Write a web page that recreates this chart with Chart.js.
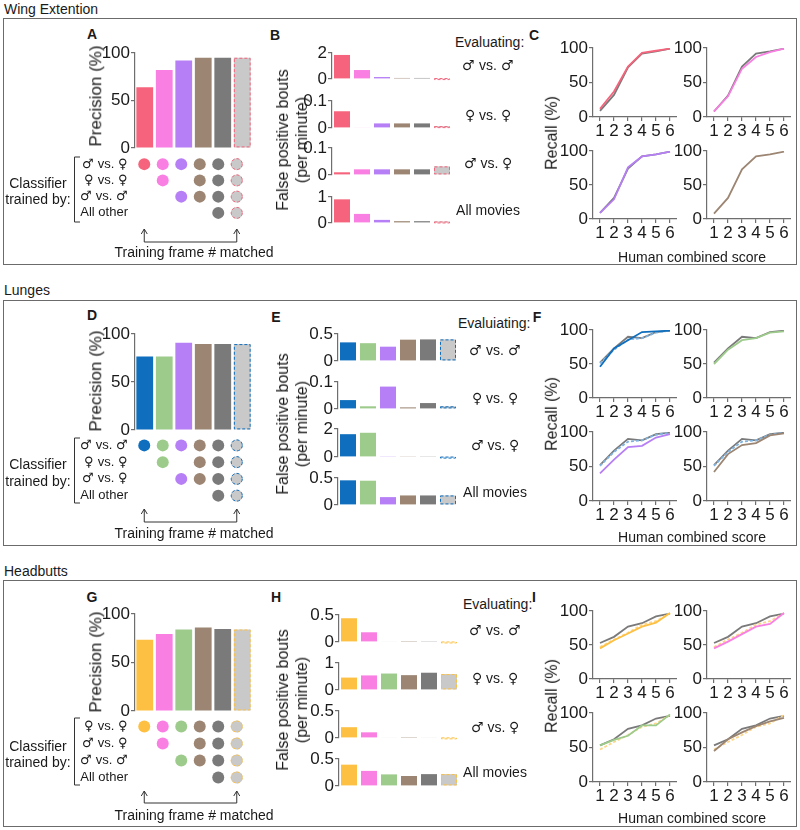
<!DOCTYPE html>
<html>
<head>
<meta charset="utf-8">
<script src="https://cdn.jsdelivr.net/npm/chart.js@4.4.1/dist/chart.umd.min.js"></script>
<style>
	@font-face { font-family: 'SexSym'; src: local('DejaVu Sans'); unicode-range: U+2640, U+2642; }
	html, body { margin: 0; padding: 0; background: #fff; }
	#fig { position: relative; width: 800px; height: 830px; overflow: hidden; font-family: "Liberation Sans", Arial, "DejaVu Sans", sans-serif; color: #1a1a1a; }
	.box { position: absolute; border: 1.5px solid #6b6b6b; box-sizing: border-box; }
	.lbl { position: absolute; white-space: pre; line-height: 1.15; text-align: center; }
	.sym { font-family: SexSym, "Liberation Sans", Arial, sans-serif; }
	canvas { position: absolute; }
	svg { position: absolute; left: 0; top: 0; }
</style>
</head>
<body>
<div id="fig"></div>
<script>
// six classifiers per behaviour (last one = frame-number matched)
var classifiers = ['c1', 'c2', 'c3', 'c4', 'c5', 'c6'];
var scores = ['1', '2', '3', '4', '5', '6'];

// Wing extension
var wePrecision = [64, 82, 92, 95, 95, 95];
var weFpMM = [1.85, 0.69, 0.15, 0.08, 0.08, 0.07];
var weFpFF = [0.062, 0.002, 0.017, 0.017, 0.017, 0.007];
var weFpMF = [0.01, 0.021, 0.021, 0.021, 0.021, 0.032];
var weFpAll = [0.91, 0.35, 0.12, 0.07, 0.07, 0.06];
var weRows = ['♂ vs. ♀', '♀ vs. ♀', '♂ vs. ♂', 'All other'];
var weTrained = [[1, 1, 1, 1, 1, 1], [0, 1, 0, 1, 1, 1], [0, 0, 1, 1, 1, 1], [0, 0, 0, 0, 1, 1]];
var weRecallGray1 = [9, 32, 72, 92, 95, 99];
var weRecallRed = [12, 37, 73, 93, 96, 99];
var weRecallGray2 = [8, 31, 73, 92, 95, 99];
var weRecallPink = [8, 30, 70, 87, 94, 99];
var weRecallGray3 = [9, 31, 74, 92, 95, 99];
var weRecallPurple = [9, 29, 76, 92, 95, 99];
var weRecallBrown = [8, 31, 73, 92, 95, 99];

// Lunges
var luPrecision = [76.5, 76.5, 91, 89.5, 89.5, 89.5];
var luFpMM = [0.345, 0.33, 0.265, 0.395, 0.40, 0.40];
var luFpFF = [0.033, 0.01, 0.083, 0.006, 0.022, 0.01];
var luFpMF = [1.63, 1.73, 0.03, 0.03, 0.03, 0.03];
var luFpAll = [0.457, 0.45, 0.146, 0.177, 0.177, 0.177];
var luRows = ['♂ vs. ♂', '♀ vs. ♀', '♂ vs. ♀', 'All other'];
var luTrained = [[1, 1, 1, 1, 1, 1], [0, 1, 0, 1, 1, 1], [0, 0, 1, 1, 1, 1], [0, 0, 0, 0, 1, 1]];
var luRecallGray = [52, 73, 90, 88, 97, 99];
var luRecallMatched = [51, 71, 86, 88, 96, 99];
var luRecallBlue = [46, 73, 85, 97, 98, 99];
var luRecallGreen = [50, 71, 85, 88, 96, 98];
var luRecallPurple = [40, 60, 78, 80, 92, 97];
var luRecallBrown = [42, 68, 81, 84, 95, 98];

// Headbutts
var hbPrecision = [73.5, 79.5, 84, 86, 84.5, 84];
var hbFpMM = [0.44, 0.18, 0.01, 0.005, 0.015, 0.01];
var hbFpFF = [0.46, 0.54, 0.61, 0.55, 0.64, 0.59];
var hbFpMF = [0.2, 0.105, 0.01, 0.005, 0.012, 0.012];
var hbFpAll = [0.395, 0.28, 0.215, 0.185, 0.22, 0.22];
var hbRows = ['♀ vs. ♀', '♂ vs. ♀', '♂ vs. ♂', 'All other'];
var hbTrained = [[1, 1, 1, 1, 1, 1], [0, 1, 0, 1, 1, 1], [0, 0, 1, 1, 1, 1], [0, 0, 0, 0, 1, 1]];
var hbRecallGray = [53, 62, 77, 82, 92, 96];
var hbRecallMatched = [47, 58, 68, 80, 85, 97];
var hbRecallOrange = [45, 57, 67, 77, 83, 97];
var hbRecallPink = [45, 55, 66, 77, 81, 97];
var hbRecallGreen = [53, 61, 67, 82, 82, 98];
var hbRecallBrown = [45, 62, 72, 81, 88, 93];

var C = {
	red: '#f5647c', pink: '#f97fe2', purple: '#b67ff6', brown: '#9c8572', gray: '#7a7a7a',
	light: '#c9c9c9', blue: '#0f6fbe', green: '#9dcb8b', orange: '#fdc042',
	lightBlue: '#7fb4e2', lightOrange: '#fdd68a'
};
var AXIS = '#6e6e6e';
var INK = '#1a1a1a';
var FONT = '"Liberation Sans", Arial, "DejaVu Sans", sans-serif';
var SYMFONT = 'SexSym, "Liberation Sans", Arial, sans-serif';
Chart.defaults.font.family = FONT;
Chart.defaults.animation = false;

var fig = document.getElementById('fig');

function addCanvas(x, y, w, h) {
	var c = document.createElement('canvas');
	c.width = Math.round(w);
	c.height = Math.round(h);
	c.style.left = Math.round(x) + 'px';
	c.style.top = Math.round(y) + 'px';
	fig.appendChild(c);
	return c.getContext('2d');
}

function label(text, x, y, o) {
	o = o || {};
	var d = document.createElement('div');
	d.className = o.sym ? 'lbl sym' : 'lbl';
	d.textContent = text;
	d.style.left = x + 'px';
	d.style.top = y + 'px';
	d.style.fontSize = (o.size || 14) + 'px';
	if (o.bold) d.style.fontWeight = 'bold';
	if (o.lh) d.style.lineHeight = o.lh + 'px';
	var tr = o.left ? 'translate(0,-50%)' : 'translate(-50%,-50%)';
	if (o.rotate) tr += ' rotate(-90deg)';
	d.style.transform = tr;
	fig.appendChild(d);
}

function box(x, y, w, h) {
	var d = document.createElement('div');
	d.className = 'box';
	d.style.left = x + 'px'; d.style.top = y + 'px';
	d.style.width = w + 'px'; d.style.height = h + 'px';
	fig.appendChild(d);
}

// dashed outline for the "matched" bar / dots
var dashBox = {
	id: 'dashBox',
	afterDatasetsDraw: function(chart, args, opts) {
		if (!opts.color) return;
		var c = chart.ctx;
		var meta = chart.getDatasetMeta(0);
		c.save();
		c.setLineDash([3, 2]);
		c.strokeStyle = opts.color;
		c.lineWidth = 1;
		meta.data.forEach(function(el, i) {
			if (!opts.flags[i]) return;
			if (chart.config.type === 'bar') {
				var p = el.getProps(['x', 'y', 'base', 'width'], true);
				c.strokeRect(p.x - p.width / 2 + 0.5, p.y + 0.5, p.width - 1, Math.max(p.base - p.y - 1, 1));
			} else {
				c.beginPath();
				c.arc(el.x, el.y, 5.5, 0, Math.PI * 2);
				c.stroke();
			}
		});
		c.restore();
	}
};

function yAxis(max, ticks, width) {
	return {
		min: 0, max: max,
		afterFit: function(a) { a.width = width; },
		afterBuildTicks: function(a) { a.ticks = ticks.map(function(v) { return { value: v }; }); },
		grid: { drawOnChartArea: false, tickLength: 4, color: AXIS, lineWidth: 1.2 },
		border: { color: AXIS, width: 1.2 },
		ticks: { font: { size: 17 }, color: INK, padding: 1, callback: function(v) { return String(v); } }
	};
}

function barPanel(x0, x1, yTop, yZero, vals, colors, dash, max, ticks, axisW, barPct) {
	var ctx = addCanvas(x0 - axisW, yTop - 12, x1 - x0 + axisW, yZero - yTop + 24);
	return new Chart(ctx, {
		type: 'bar',
		data: {
			labels: classifiers,
			datasets: [{ data: vals, backgroundColor: colors, borderWidth: 0, categoryPercentage: 1, barPercentage: barPct }]
		},
		options: {
			responsive: false, devicePixelRatio: 1,
			layout: { padding: { top: 12, bottom: 12, left: 0, right: 0 } },
			plugins: { legend: { display: false }, tooltip: { enabled: false }, dashBox: { color: dash, flags: [0, 0, 0, 0, 0, 1] } },
			scales: { x: { display: false }, y: yAxis(max, ticks, axisW) }
		},
		plugins: [dashBox]
	});
}

function dotPanel(x0, x1, firstY, lastY, rows, matrix, colors, dash) {
	var s = (lastY - firstY) / (rows.length - 1);
	var top = firstY - s / 2;
	var axisW = 60;
	var pts = [], fills = [], flags = [];
	matrix.forEach(function(row, r) {
		row.forEach(function(on, c) {
			if (!on) return;
			pts.push({ x: classifiers[c], y: rows[r] });
			fills.push(c === classifiers.length - 1 ? C.light : colors[c]);
			flags.push(c === classifiers.length - 1);
		});
	});
	var ctx = addCanvas(x0 - axisW, top - 16, x1 - x0 + axisW, s * rows.length + 32);
	var ch = new Chart(ctx, {
		type: 'scatter',
		data: { datasets: [{ data: pts, pointRadius: 6, pointBackgroundColor: fills, pointBorderWidth: 0 }] },
		options: {
			responsive: false, devicePixelRatio: 1,
			layout: { padding: { top: 16, bottom: 16, left: 0, right: 0 } },
			plugins: { legend: { display: false }, tooltip: { enabled: false }, dashBox: { color: dash, flags: flags } },
			scales: {
				x: { type: 'category', labels: classifiers, offset: true, display: false },
				y: {
					type: 'category', labels: rows, offset: true,
					afterFit: function(a) { a.width = axisW; },
					grid: { display: false, drawTicks: false }, border: { display: false },
					ticks: { font: { size: 13, family: SYMFONT }, color: INK, padding: 7, autoSkip: false }
				}
			}
		},
		plugins: [dashBox]
	});
	return { chart: ch, left: x0 - axisW };
}

function recallPanel(axisX, yTop, yZero, series) {
	var ctx = addCanvas(axisX - 33, yTop - 12, 33 + 84, yZero - yTop + 12 + 26);
	var ds = series.map(function(s) {
		return { data: s.data, borderColor: s.color, borderWidth: 1.8, borderDash: s.dash ? [3, 2] : [], pointRadius: 0, fill: false, tension: 0 };
	});
	return new Chart(ctx, {
		type: 'line',
		data: { labels: scores, datasets: ds },
		options: {
			responsive: false, devicePixelRatio: 1,
			layout: { padding: { top: 12, bottom: 0, left: 0, right: 0 } },
			plugins: { legend: { display: false }, tooltip: { enabled: false } },
			scales: {
				x: {
					type: 'category', offset: true,
					afterFit: function(a) { a.height = 26; },
					grid: { drawOnChartArea: false, tickLength: 4, color: AXIS, lineWidth: 1.2, offset: false },
					border: { color: AXIS, width: 1.2 },
					ticks: { font: { size: 17 }, color: INK, padding: 0, maxRotation: 0, autoSkip: false }
				},
				y: yAxis(100, [0, 50, 100], 33)
			}
		}
	});
}

var svgNS = 'http://www.w3.org/2000/svg';
var svg = document.createElementNS(svgNS, 'svg');
svg.setAttribute('width', 800);
svg.setAttribute('height', 830);
fig.appendChild(svg);
function path(d) {
	var p = document.createElementNS(svgNS, 'path');
	p.setAttribute('d', d);
	p.setAttribute('fill', 'none');
	p.setAttribute('stroke', '#333');
	p.setAttribute('stroke-width', 1);
	svg.appendChild(p);
}

function leftBlock(b) {
	barPanel(135, 252, b.barTop, b.barZero, b.precision, b.colors, b.dash, 100, [0, 50, 100], 51, 0.86);
	var dots = dotPanel(135, 252, b.dotFirst, b.dotLast, b.rows, b.trained, b.colors, b.dash);
	label('Precision (%)', 96, b.titleY, { size: 17, rotate: true });
	label('Classifier\ntrained by:', 38, (b.dotFirst + b.dotLast) / 2 + 2, { size: 14, lh: 16.5 });
	path('M 80 ' + b.brTop + ' H 74.5 V ' + b.brBot + ' H 80');
	var xa = dots.left + dots.chart.scales.x.getPixelForValue(0);
	var xb = dots.left + dots.chart.scales.x.getPixelForValue(5);
	path('M ' + xa + ' ' + b.arTop + ' V ' + b.arBot + ' H ' + xb + ' V ' + b.arTop);
	path('M ' + (xa - 3) + ' ' + (b.arTop + 5) + ' L ' + xa + ' ' + b.arTop + ' L ' + (xa + 3) + ' ' + (b.arTop + 5));
	path('M ' + (xb - 3) + ' ' + (b.arTop + 5) + ' L ' + xb + ' ' + b.arTop + ' L ' + (xb + 3) + ' ' + (b.arTop + 5));
	label('Training frame # matched', 194, b.textY, { size: 14 });
}

function fpBlock(x0, rowsY, sets, maxes, colors, dash, titleY, evalText, evalX, evalY, names, nameX, nameY) {
	for (var i = 0; i < sets.length; i++) {
		barPanel(x0, x0 + 120, rowsY[i][0], rowsY[i][1], sets[i], colors, dash, maxes[i], [0, maxes[i]], 32, 0.8);
	}
	label('False positive bouts\n(per minute)', 292, titleY, { size: 16, rotate: true, lh: 19 });
	label(evalText, evalX, evalY, { size: 14, left: true });
	for (var j = 0; j < names.length; j++) {
		label(names[j], nameX, nameY[j], { size: 14, sym: true });
	}
}

function build() {
	// frames and section titles
	box(3, 18, 794, 247);
	box(3, 300, 794, 246);
	box(3, 580, 794, 247);
	label('Wing Extention', 4, 9, { size: 14, left: true });
	label('Lunges', 4, 290, { size: 14, left: true });
	label('Headbutts', 4, 571, { size: 14, left: true });

	var letters = [['A', 92, 34], ['B', 275, 35], ['C', 534, 35], ['D', 92, 315], ['E', 276, 317], ['F', 537, 317], ['G', 92, 597], ['H', 276, 597], ['I', 534, 597]];
	letters.forEach(function(l) { label(l[0], l[1], l[2], { size: 14, bold: true }); });

	var evalNames = ['♂ vs. ♂', '♀ vs. ♀', '♂ vs. ♀', 'All movies'];

	// Wing extension
	var weColors = [C.red, C.pink, C.purple, C.brown, C.gray, C.light];
	leftBlock({ barTop: 53, barZero: 148, precision: wePrecision, colors: weColors, dash: C.red, rows: weRows, trained: weTrained,
		dotFirst: 164, dotLast: 213, titleY: 96, brTop: 157, brBot: 222, arTop: 229, arBot: 242, textY: 252 });
	fpBlock(332, [[53, 79], [101, 128], [148, 175], [197, 223]], [weFpMM, weFpFF, weFpMF, weFpAll], [2, 0.1, 0.1, 1],
		weColors, C.red, 140, 'Evaluating:', 455, 42, evalNames, 488, [65, 115, 163, 210]);
	recallPanel(593, 48, 117, [{ data: weRecallRed, color: C.red }, { data: weRecallGray1, color: C.gray }]);
	recallPanel(707, 48, 117, [{ data: weRecallPink, color: C.pink }, { data: weRecallGray2, color: C.gray }]);
	recallPanel(593, 151, 219, [{ data: weRecallPurple, color: C.purple }, { data: weRecallGray3, color: C.gray }]);
	recallPanel(707, 151, 219, [{ data: weRecallBrown, color: C.brown }]);
	label('Recall (%)', 552, 133, { size: 16, rotate: true });
	label('Human combined score', 692, 257, { size: 14 });

	// Lunges
	var luColors = [C.blue, C.green, C.purple, C.brown, C.gray, C.light];
	leftBlock({ barTop: 334, barZero: 430, precision: luPrecision, colors: luColors, dash: C.blue, rows: luRows, trained: luTrained,
		dotFirst: 445, dotLast: 495, titleY: 381, brTop: 438, brBot: 503, arTop: 509, arBot: 522, textY: 533 });
	fpBlock(338, [[334, 361], [382, 409], [429, 457], [478, 505]], [luFpMM, luFpFF, luFpMF, luFpAll], [0.5, 0.1, 2, 0.5],
		luColors, C.blue, 424, 'Evaluiating:', 458, 323, evalNames, 495, [350, 398, 445, 492]);
	recallPanel(593, 330, 398, [{ data: luRecallBlue, color: C.blue }, { data: luRecallMatched, color: C.lightBlue, dash: true }, { data: luRecallGray, color: C.gray }]);
	recallPanel(707, 330, 398, [{ data: luRecallGreen, color: C.green }, { data: luRecallGray, color: C.gray }]);
	recallPanel(593, 432, 501, [{ data: luRecallPurple, color: C.purple }, { data: luRecallMatched, color: C.lightBlue, dash: true }, { data: luRecallGray, color: C.gray }]);
	recallPanel(707, 432, 501, [{ data: luRecallBrown, color: C.brown }, { data: luRecallMatched, color: C.lightBlue, dash: true }, { data: luRecallGray, color: C.gray }]);
	label('Recall (%)', 552, 414, { size: 16, rotate: true });
	label('Human combined score', 692, 537, { size: 14 });

	// Headbutts
	var hbColors = [C.orange, C.pink, C.green, C.brown, C.gray, C.light];
	leftBlock({ barTop: 614, barZero: 711, precision: hbPrecision, colors: hbColors, dash: C.orange, rows: hbRows, trained: hbTrained,
		dotFirst: 726, dotLast: 777, titleY: 662, brTop: 718, brBot: 785, arTop: 791, arBot: 803, textY: 815 });
	fpBlock(339, [[615, 642], [663, 690], [711, 738], [759, 786]], [hbFpMM, hbFpFF, hbFpMF, hbFpAll], [0.5, 1, 0.5, 0.5],
		hbColors, C.orange, 700, 'Evaluating:', 463, 604, evalNames, 495, [630, 678, 727, 772]);
	recallPanel(593, 611, 679, [{ data: hbRecallOrange, color: C.orange }, { data: hbRecallMatched, color: C.lightOrange, dash: true }, { data: hbRecallGray, color: C.gray }]);
	recallPanel(707, 611, 679, [{ data: hbRecallPink, color: C.pink }, { data: hbRecallMatched, color: C.lightOrange, dash: true }, { data: hbRecallGray, color: C.gray }]);
	recallPanel(593, 713, 782, [{ data: hbRecallGreen, color: C.green }, { data: hbRecallMatched, color: C.lightOrange, dash: true }, { data: hbRecallGray, color: C.gray }]);
	recallPanel(707, 713, 782, [{ data: hbRecallBrown, color: C.brown }, { data: hbRecallMatched, color: C.lightOrange, dash: true }, { data: hbRecallGray, color: C.gray }]);
	label('Recall (%)', 552, 696, { size: 16, rotate: true });
	label('Human combined score', 692, 818, { size: 14 });
}

// the symbol font must be ready before the canvases draw their labels
document.fonts.load('14px SexSym', '♂♀').then(build, build);
</script>
</body>
</html>
